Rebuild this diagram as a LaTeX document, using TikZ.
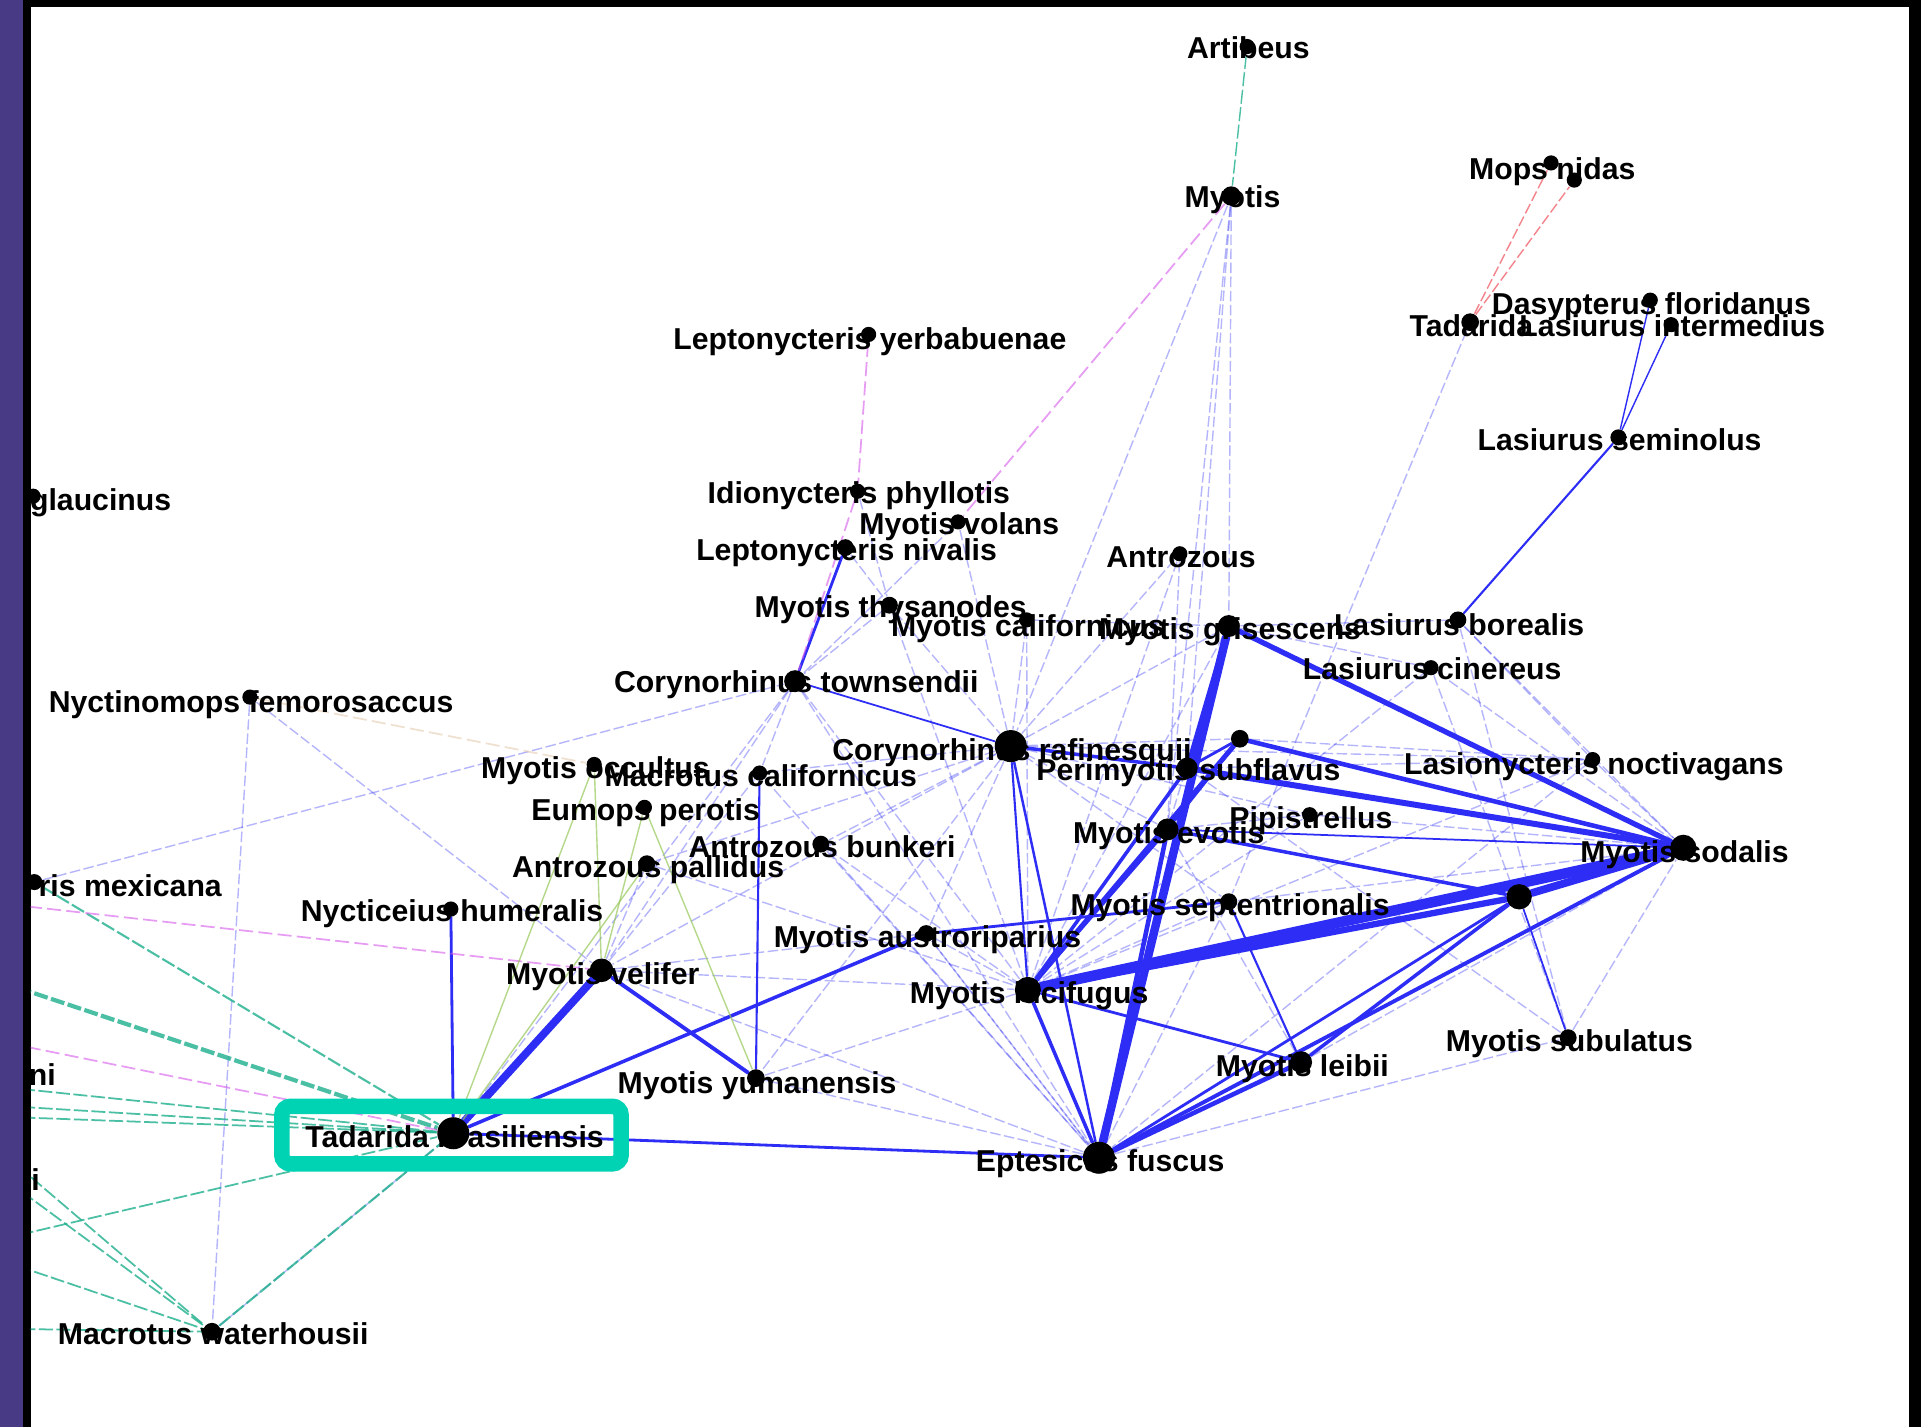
\documentclass[tikz,border=0pt]{standalone}
\usepackage{fontspec}
\setmainfont{Liberation Sans}
\usepackage{tikz}
\definecolor{edgeblue}{RGB}{45,45,245}
\definecolor{tealbox}{RGB}{0,210,180}
\definecolor{tealedge}{RGB}{30,175,140}
\definecolor{pinkedge}{RGB}{215,90,235}
\definecolor{greenedge}{RGB}{150,200,90}
\definecolor{rededge}{RGB}{240,80,90}
\definecolor{framepurple}{RGB}{72,58,132}
\pgfdeclarelayer{edgelayer}
\pgfsetlayers{edgelayer,main}
\tikzset{ dot/.style={circle,fill=black,inner sep=0pt,minimum size=1.2*#1},
  lbl/.style={font=\fontsize{8.6}{10}\selectfont\bfseries,inner sep=0pt},
  edge/.style={draw=edgeblue,line cap=round},
  faint/.style={draw=edgeblue,opacity=.35,line width=.4pt,dash pattern=on 3pt off 1pt},
  tealline/.style={draw=tealedge,opacity=.8,dash pattern=on 4pt off 1pt},
  pinkline/.style={draw=pinkedge,opacity=.6,line width=.5pt,dash pattern=on 4pt off 1.5pt},
  greenline/.style={draw=greenedge,opacity=.7,line width=.4pt},
  redline/.style={draw=rededge,opacity=.7,line width=.4pt,dash pattern=on 3pt off 1pt}}

\begin{document}
\begin{tikzpicture}[x=0.012251cm,y=-0.012251cm]
\useasboundingbox (0,0) rectangle (1568,1165);
\begin{pgfonlayer}{edgelayer}
  \fill[framepurple] (0,0) rectangle (19,1165);
  \fill[black] (19,0) rectangle (1568,1165);
  \fill[white] (25,5.5) rectangle (1558,1165);
\end{pgfonlayer}
%bats
  \foreach \n/\x/\y/\d/\ly/\txt in {art/1018/38/3.6pt/39/Artibeus, myo/1005/160/4.6pt/163/Myotis,
      dasy/1347/245/3.6pt/250/Dasypterus floridanus, tada/1200/263/4.2pt/266/Tadarida,
      linter/1364/265/3.6pt/266/Lasiurus intermedius, lsemi/1321/357/3.8pt/359/Lasiurus seminolus,
      lyerba/709/273/3.6pt/279/Leptonycteris yerbabuenae, idio/700/401/3.6pt/405/Idionycteris phyllotis,
      volans/782/426/3.6pt/430/Myotis volans, lniv/690/447/4pt/451/Leptonycteris nivalis,
      antro/963/452/3.6pt/455/Antrozous, thys/726/494/4pt/498/Myotis thysanodes,
      calif/838/506/3.6pt/513/Myotis californicus, gris/1003/511/5.2pt/516/Myotis grisescens,
      lbor/1190/506/4pt/510/Lasiurus borealis, lcin/1168/545/3.6pt/546/Lasiurus cinereus,
      town/649/556/5.2pt/559/Corynorhinus townsendii, nfem/204/569/3.6pt/575/Nyctinomops femorosaccus,
      raf/825/609/7.6pt/614/Corynorhinus rafinesquii, sub/969/627/5pt/631/Perimyotis subflavus,
      lnoc/1300/620/3.6pt/626/Lasionycteris noctivagans, occ/485/624/3.6pt/629/Myotis occultus,
      mcal/620/631/3.6pt/633/Macrotus californicus, eper/526/659/3.6pt/663/Eumops perotis,
      pip/1069/665/3.6pt/670/Pipistrellus, evo/953/677/5.2pt/682/Myotis evotis,
      bunk/670/689/4pt/691/Antrozous bunkeri, sod/1374/692/6.2pt/698/Myotis sodalis,
      pall/528/705/4pt/710/Antrozous pallidus, sept/1003/736/4pt/741/Myotis septentrionalis,
      nhum/368/742/3.6pt/746/Nycticeius humeralis, aust/756/762/4pt/767/Myotis austroriparius,
      vel/491/792/5.6pt/797/Myotis velifer, luc/839/808/6.2pt/813/Myotis lucifugus,
      subu/1280/847/4pt/852/Myotis subulatus, leib/1062/867/5.2pt/872/Myotis leibii,
      yum/617/880/4.2pt/886/Myotis yumanensis, tbra/370/925/7.6pt/928/Tadarida brasiliensis,
      fus/897/945/7.6pt/950/Eptesicus fuscus, mwat/173/1087/4.2pt/1089/Macrotus waterhousii}
  {
    \node[dot=\d] (\n) at (\x,\y) {};
    \node[lbl] (\n-l) at (\x+1,\ly) {\txt};
  }
  \node[dot=3.6pt] (mopsA) at (1266,133) {};
  \node[dot=3.6pt] (mopsB) at (1285,147) {};
  \node[lbl] (mops-l) at (1267,140) {Mops nidas};
  \node[dot=4.2pt] (u1) at (1012,603) {};
  \node[dot=6pt] (u2) at (1240,732) {};
  \node[dot=3.6pt] (glauc) at (27,405) {};
  \node[lbl,anchor=west] (glauc-l) at (24,410) {glaucinus};
  \node[dot=3.8pt] (mex) at (28,720) {};
  \node[lbl,anchor=west] (mex-l) at (31,723) {ris mexicana};
  \node[lbl,anchor=west] (ni-l) at (23,877) {ni};
  \node[lbl,anchor=west] (i-l) at (25,963) {i};
% off the frame
  \foreach \name/\x/\y in {offT1/-40/788, offM1/-40/842, offT2/-40/883, offT3/-40/900,
      offT4/-40/910, offT5/-40/1021, offM0/-40/733, offT6/-40/905, offT7/-40/930,
      offT8/-40/1015, offT9/-40/1084}
    \coordinate (\name) at (\x,\y);
% highlight
  \draw[tealbox,line width=4.4pt,rounded corners=2.5pt] (230,903) rectangle (507,950);

\begin{pgfonlayer}{edgelayer}
\begin{scope}
  \clip (25,5.5) rectangle (1558,1165);
  \foreach \from/\to in {myo/raf, myo/gris, myo/sub, myo/evo, tada/sept, lbor/sod, lcin/sod, lcin/luc,
      lbor/subu, lnoc/sod, lnoc/luc, lnoc/fus, antro/luc, antro/raf, antro/evo, calif/raf, calif/luc,
      calif/gris, thys/town, thys/raf, thys/luc, lniv/thys, idio/thys, volans/town, volans/raf,
      town/vel, town/tbra, town/mcal, town/luc, town/fus, raf/vel, raf/yum, raf/bunk, raf/pall,
      raf/aust, raf/gris, raf/u1, raf/evo, raf/pip, raf/sept, raf/lnoc, vel/luc, vel/fus, vel/aust,
      vel/mcal, mex/town, nfem/mwat, nfem/vel, fus/subu, fus/sept, fus/aust, fus/yum, fus/mcal,
      pip/sod, pip/luc, gris/luc, gris/evo, sept/sod, sept/luc, subu/sod, leib/sod, leib/evo,
      bunk/luc, bunk/fus, pall/vel, pall/luc, mcal/raf, yum/luc, aust/luc, aust/fus, gris/lbor,
      gris/lcin, sub/lnoc, evo/pip, u1/lnoc, mwat/tbra, lbor/lnoc, lcin/subu, sub/subu}
    \draw[faint] (\from) -- (\to);
  \foreach \from/\to/\w in {luc/sod/3.0, u2/sod/2.2, luc/u2/1.8, fus/gris/2.4, fus/evo/1.3,
      sub/sod/1.7, gris/sod/1.5, luc/u1/1.4, u1/sod/1.3, luc/sub/1.0, luc/evo/0.9, gris/sub/1.3,
      evo/u2/1.0, raf/sub/1.0, fus/leib/1.3, leib/u2/1.0, fus/sod/1.1, luc/fus/1.0, raf/fus/0.7,
      raf/luc/0.6, luc/leib/0.8, sept/leib/0.6, u2/subu/0.5, aust/sept/0.8, tbra/vel/2.2,
      tbra/aust/1.0, tbra/nhum/0.8, vel/yum/1.1, tbra/fus/0.8, mcal/yum/0.6, town/lniv/0.8,
      lsemi/lbor/0.6, lsemi/linter/0.4, lsemi/dasy/0.4, u1/evo/0.8, town/raf/0.5, sub/u1/0.8,
      evo/sod/0.5, fus/u2/0.8}
    \draw[edge,line width=\w pt] (\from) -- (\to);
  \foreach \from/\to/\w in {art/myo/0.4, mex/tbra/0.6, offT1/tbra/1.2, offT2/tbra/0.5, offT3/tbra/0.5,
      offT4/tbra/0.5, offT5/tbra/0.5, offT6/mwat/0.5, offT7/mwat/0.5, offT8/mwat/0.5,
      offT9/mwat/0.5, mwat/tbra/0.6}
    \draw[tealline,line width=\w pt] (\from) -- (\to);
  \foreach \from/\to in {offM0/vel, offM1/tbra, lyerba/idio, myo/volans, idio/town}
    \draw[pinkline] (\from) -- (\to);
  \draw[pinkline,draw=brown!40] (nfem) -- (occ);
  \foreach \from/\to in {occ/vel, eper/vel, eper/yum, occ/tbra, pall/tbra}
    \draw[greenline] (\from) -- (\to);
  \foreach \from/\to in {tada/mopsA, tada/mopsB}
    \draw[redline] (\from) -- (\to);
\end{scope}
\end{pgfonlayer}
\end{tikzpicture}
\end{document}
